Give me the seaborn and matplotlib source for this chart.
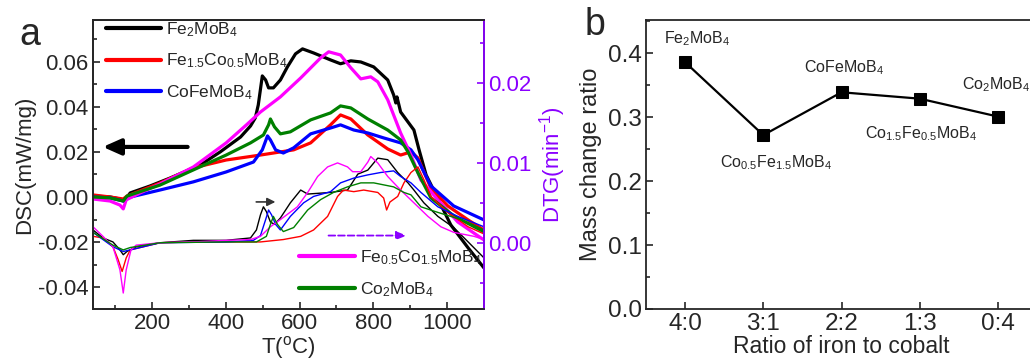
import pandas as pd
import seaborn as sns
import matplotlib.pyplot as plt
from matplotlib.lines import Line2D
from matplotlib.ticker import MultipleLocator, FormatStrFormatter

sns.set_theme(style='ticks')
plt.rcParams['font.family'] = ['Liberation Sans', 'DejaVu Sans']
plt.rcParams['mathtext.fontset'] = 'custom'
plt.rcParams['mathtext.rm'] = 'Liberation Sans'
plt.rcParams['mathtext.it'] = 'Liberation Sans:italic'
plt.rcParams['mathtext.bf'] = 'Liberation Sans:bold'
plt.rcParams['axes.unicode_minus'] = False
plt.rcParams['xtick.direction'] = 'in'
plt.rcParams['ytick.direction'] = 'in'

# ---- panel a : DSC (thick) and DTG (thin) ----
names = ['Fe$_2$MoB$_4$', 'Fe$_{1.5}$Co$_{0.5}$MoB$_4$', 'CoFeMoB$_4$',
         'Fe$_{0.5}$Co$_{1.5}$MoB$_4$', 'Co$_2$MoB$_4$']
colors = ['black', '#ff0000', '#0000ff', '#ff00ff', '#008000']
purple = '#8a00ff'

# DSC, mW/mg
t_dsc_fe2 = [40, 86, 113, 124, 141, 195, 249, 331, 385, 440, 467, 480, 488, 499, 508, 516, 529, 548,
             567, 589, 608, 638, 684, 711, 739, 766, 801, 839, 855, 861, 864, 874, 910, 924, 943, 970,
             1010, 1057, 1100]
dsc_fe2 = [0.0004, 0.0, -0.0009, -0.0018, 0.0018, 0.0049, 0.0084, 0.0142, 0.0200, 0.0266, 0.0315,
           0.0351, 0.0408, 0.0537, 0.0519, 0.0484, 0.0484, 0.0519, 0.0577, 0.0635, 0.0657, 0.0639,
           0.0608, 0.0591, 0.0604, 0.0599, 0.0577, 0.0519, 0.0453, 0.0417, 0.0444, 0.0377, 0.0297,
           0.0209, 0.0098, 0.0009, -0.0124, -0.0226, -0.0315]
t_dsc_fe15 = [40, 86, 122, 132, 222, 312, 401, 494, 584, 630, 684, 711, 739, 785, 839, 874, 902, 921,
              937, 956, 1002, 1057, 1100]
dsc_fe15 = [0.0009, 0.0, -0.0009, 0.0004, 0.0062, 0.0129, 0.0164, 0.0186, 0.0209, 0.0240, 0.0320,
            0.0364, 0.0346, 0.0275, 0.0213, 0.0186, 0.0200, 0.0173, 0.0111, 0.0040, -0.0040, -0.0102,
            -0.0147]
t_dsc_cofe = [40, 86, 122, 132, 222, 312, 401, 475, 499, 513, 521, 535, 556, 584, 630, 684, 711, 747,
              785, 828, 874, 902, 921, 956, 1018, 1100]
dsc_cofe = [0.0, -0.0004, -0.0018, -0.0004, 0.0031, 0.0067, 0.0111, 0.0155, 0.0209, 0.0271, 0.0253,
            0.0209, 0.0195, 0.0218, 0.0280, 0.0306, 0.0320, 0.0297, 0.0284, 0.0262, 0.0240, 0.0209,
            0.0164, 0.0049, -0.0040, -0.0102]
t_dsc_fe05 = [40, 86, 113, 122, 130, 168, 222, 312, 401, 456, 494, 548, 603, 657, 679, 711, 739, 766,
              793, 812, 839, 874, 902, 929, 975, 1029, 1100]
dsc_fe05 = [-0.0009, -0.0018, -0.0036, -0.0053, -0.0013, 0.0018, 0.0058, 0.0133, 0.0240, 0.0320,
            0.0377, 0.0444, 0.0528, 0.0617, 0.0644, 0.0630, 0.0573, 0.0524, 0.0533, 0.0511, 0.0431,
            0.0284, 0.0186, 0.0075, -0.0013, -0.0111, -0.0191]
t_dsc_co2 = [40, 86, 122, 132, 222, 312, 401, 467, 502, 516, 521, 532, 548, 575, 630, 684, 711, 739,
             785, 839, 874, 894, 921, 956, 1018, 1100]
dsc_co2 = [0.0, -0.0004, -0.0018, 0.0004, 0.0053, 0.0120, 0.0186, 0.0240, 0.0275, 0.0320, 0.0346,
           0.0311, 0.0280, 0.0289, 0.0342, 0.0373, 0.0404, 0.0395, 0.0346, 0.0297, 0.0253, 0.0200,
           0.0107, -0.0004, -0.0084, -0.0155]

# DTG, 1/min
t_dtg_fe2 = [40, 67, 94, 113, 122, 132, 157, 222, 312, 401, 467, 483, 494, 502, 510, 521, 532, 548,
             575, 603, 622, 684, 730, 758, 785, 812, 839, 866, 894, 910, 937, 975, 1018, 1057, 1100]
dtg_fe2 = [0.0016, 0.0006, 0.0001, -0.0009, -0.0015, -0.0011, -0.0005, 0.0, 0.0003, 0.0003, 0.0006,
           0.0016, 0.0035, 0.0045, 0.0039, 0.0026, 0.0023, 0.0031, 0.0050, 0.0066, 0.0061, 0.0063,
           0.0066, 0.0086, 0.0091, 0.0106, 0.0104, 0.0088, 0.0075, 0.0066, 0.0050, 0.0033, 0.0019,
           0.0001, -0.0019]
t_dtg_fe15 = [40, 67, 94, 108, 119, 130, 141, 222, 312, 401, 494, 556, 603, 638, 676, 703, 719, 747,
              774, 812, 828, 836, 845, 866, 883, 902, 921, 937, 956, 1002, 1057, 1100]
dtg_fe15 = [0.0008, 0.0006, -0.0005, -0.0021, -0.0036, -0.0019, -0.0009, 0.0, 0.0001, 0.0001, 0.0001,
            0.0004, 0.0008, 0.0016, 0.0033, 0.0058, 0.0066, 0.0064, 0.0066, 0.0063, 0.0056, 0.0041,
            0.0051, 0.0058, 0.0075, 0.0088, 0.0095, 0.0079, 0.0058, 0.0038, 0.0020, 0.0011]
t_dtg_cofe = [40, 94, 122, 141, 222, 401, 475, 494, 508, 516, 524, 535, 548, 575, 611, 638, 684, 711,
              747, 785, 820, 855, 874, 902, 929, 975, 1029, 1100]
dtg_cofe = [0.0013, -0.0005, -0.0011, -0.0009, 0.0, 0.0001, 0.0003, 0.0009, 0.0029, 0.0041, 0.0035,
            0.0023, 0.0016, 0.0033, 0.0050, 0.0058, 0.0064, 0.0075, 0.0081, 0.0085, 0.0088, 0.0090,
            0.0083, 0.0075, 0.0063, 0.0045, 0.0033, 0.0020]
t_dtg_fe05 = [40, 67, 94, 113, 122, 130, 143, 157, 222, 312, 401, 467, 494, 521, 548, 594, 622, 649,
              676, 703, 730, 744, 766, 785, 793, 812, 839, 874, 910, 948, 983, 1018, 1073, 1100]
dtg_fe05 = [0.0020, 0.0008, -0.0005, -0.0034, -0.0063, -0.0034, -0.0009, -0.0003, 0.0, 0.0001,
            0.0003, 0.0004, 0.0008, 0.0020, 0.0029, 0.0045, 0.0063, 0.0083, 0.0095, 0.0100, 0.0095,
            0.0089, 0.0089, 0.0101, 0.0108, 0.0100, 0.0083, 0.0066, 0.0050, 0.0033, 0.0020, 0.0013,
            0.0008, 0.0004]
t_dtg_co2 = [40, 94, 122, 141, 222, 401, 483, 510, 521, 529, 540, 556, 584, 622, 657, 692, 730, 766,
             801, 855, 883, 902, 929, 975, 1038, 1100]
dtg_co2 = [0.0013, -0.0003, -0.0009, -0.0006, 0.0, 0.0001, 0.0001, 0.0008, 0.0023, 0.0033, 0.0023,
           0.0014, 0.0019, 0.0041, 0.0054, 0.0063, 0.0070, 0.0075, 0.0075, 0.0070, 0.0063, 0.0060,
           0.0045, 0.0038, 0.0029, 0.0016]

dsc_t = [t_dsc_fe2, t_dsc_fe15, t_dsc_cofe, t_dsc_fe05, t_dsc_co2]
dsc_v = [dsc_fe2, dsc_fe15, dsc_cofe, dsc_fe05, dsc_co2]
dtg_t = [t_dtg_fe2, t_dtg_fe15, t_dtg_cofe, t_dtg_fe05, t_dtg_co2]
dtg_v = [dtg_fe2, dtg_fe15, dtg_cofe, dtg_fe05, dtg_co2]

# ---- panel b ----
ratios = ['4:0', '3:1', '2:2', '1:3', '0:4']
mass_change = [0.386, 0.272, 0.339, 0.329, 0.301]
point_labels = ['Fe$_2$MoB$_4$', 'Co$_{0.5}$Fe$_{1.5}$MoB$_4$', 'CoFeMoB$_4$',
                'Co$_{1.5}$Fe$_{0.5}$MoB$_4$', 'Co$_2$MoB$_4$']

fig = plt.figure(figsize=(10.3, 3.63), dpi=100)
ax = fig.add_axes([0.0903, 0.1488, 0.3796, 0.796])
ax2 = ax.twinx()

for tt, vv, c in zip(dsc_t, dsc_v, colors):
    sns.lineplot(x=tt, y=vv, ax=ax, color=c, lw=2.3, estimator=None, sort=False)
for tt, vv, c in zip(dtg_t, dtg_v, colors):
    sns.lineplot(x=tt, y=vv, ax=ax2, color=c, lw=1.0, estimator=None, sort=False)

ax.set_xlim(40, 1100)
ax.set_ylim(-0.0497, 0.0785)
ax2.set_ylim(-0.0083, 0.0279)
ax.xaxis.set_major_locator(MultipleLocator(200))
ax.xaxis.set_minor_locator(MultipleLocator(100))
ax.yaxis.set_major_locator(MultipleLocator(0.02))
ax.yaxis.set_minor_locator(MultipleLocator(0.01))
ax.yaxis.set_major_formatter(FormatStrFormatter('%.2f'))
ax2.yaxis.set_major_locator(MultipleLocator(0.01))
ax2.yaxis.set_minor_locator(MultipleLocator(0.005))
ax2.yaxis.set_major_formatter(FormatStrFormatter('%.2f'))

ax.set_xlabel('T($^{\\rm o}$C)', fontsize=16, labelpad=0)
ax.set_ylabel('DSC(mW/mg)', fontsize=16, labelpad=2)
ax2.set_ylabel('DTG(min$^{-1}$)', fontsize=16, color=purple, labelpad=4)
ax.tick_params(labelsize=16, width=1.2, length=5, pad=3)
ax.tick_params(which='minor', width=1.2, length=3)
ax.tick_params(axis='y', right=False)
ax2.tick_params(labelsize=16, width=1.2, length=5, colors=purple, pad=3)
ax2.tick_params(which='minor', width=1.2, length=3, colors=purple)
for sp in ax.spines.values():
    sp.set_linewidth(1.3)
for sp in ax2.spines.values():
    sp.set_linewidth(1.3)
ax2.spines['right'].set_color(purple)

h1 = [Line2D([], [], color=c, lw=3) for c in colors[:3]]
leg1 = ax.legend(h1, names[:3], loc='upper left', bbox_to_anchor=(0.01, 1.03), frameon=False,
                 fontsize=12.5, handlelength=3.2, handletextpad=0.3, labelspacing=0.75, borderpad=0)
ax.add_artist(leg1)
h2 = [Line2D([], [], color=c, lw=3) for c in colors[3:]]
ax.legend(h2, names[3:], loc='upper left', bbox_to_anchor=(0.505, 0.24), frameon=False,
          fontsize=12.5, handlelength=3.2, handletextpad=0.3, labelspacing=0.75, borderpad=0)

ax.annotate('', xy=(59, 0.0222), xytext=(304, 0.0222),
            arrowprops=dict(arrowstyle='-|>,head_length=0.9,head_width=0.4', lw=3, color='black'))
ax.annotate('', xy=(542, -0.0022), xytext=(475, -0.0022),
            arrowprops=dict(arrowstyle='-|>,head_length=0.4,head_width=0.2', lw=1.2, color='#333333'))
ax2.annotate('', xy=(898, 0.0009), xytext=(671, 0.0009),
             arrowprops=dict(arrowstyle='-|>,head_length=0.5,head_width=0.2', lw=1.3,
                             color=purple, linestyle='--'))

fig.text(0.019, 0.876, 'a', fontsize=27, va='baseline')

# panel b
bx = fig.add_axes([0.6272, 0.1488, 0.3796, 0.796])
sns.lineplot(x=ratios, y=mass_change, ax=bx, color='black', lw=1.6, marker='s', markersize=9,
             markeredgecolor='black', sort=False)
bx.set_xlim(-0.5, 4.5)
bx.set_ylim(0, 0.452)
bx.yaxis.set_major_locator(MultipleLocator(0.1))
bx.yaxis.set_minor_locator(MultipleLocator(0.05))
bx.yaxis.set_major_formatter(FormatStrFormatter('%.1f'))
bx.tick_params(labelsize=17.5, width=1.2, length=5, pad=3)
bx.tick_params(which='minor', width=1.2, length=3)
bx.spines['right'].set_visible(False)
for sp in bx.spines.values():
    sp.set_linewidth(1.3)
bx.set_xlabel('Ratio of iron to cobalt', fontsize=16.5, labelpad=0)
bx.set_ylabel('Mass change ratio', fontsize=17, labelpad=4)

offsets = [(12, 24, 'center'), (13, -28, 'center'), (2, 25, 'center'), (1, -35, 'center'),
           (-36, 32, 'left')]
for i, (lab, (dx, dy, ha)) in enumerate(zip(point_labels, offsets)):
    bx.annotate(lab, xy=(i, mass_change[i]), xytext=(dx, dy), textcoords='offset pixels',
                ha=ha, va='center', fontsize=11.5)

fig.text(0.568, 0.904, 'b', fontsize=27, va='baseline')

fig.savefig('out.png', dpi=100)
